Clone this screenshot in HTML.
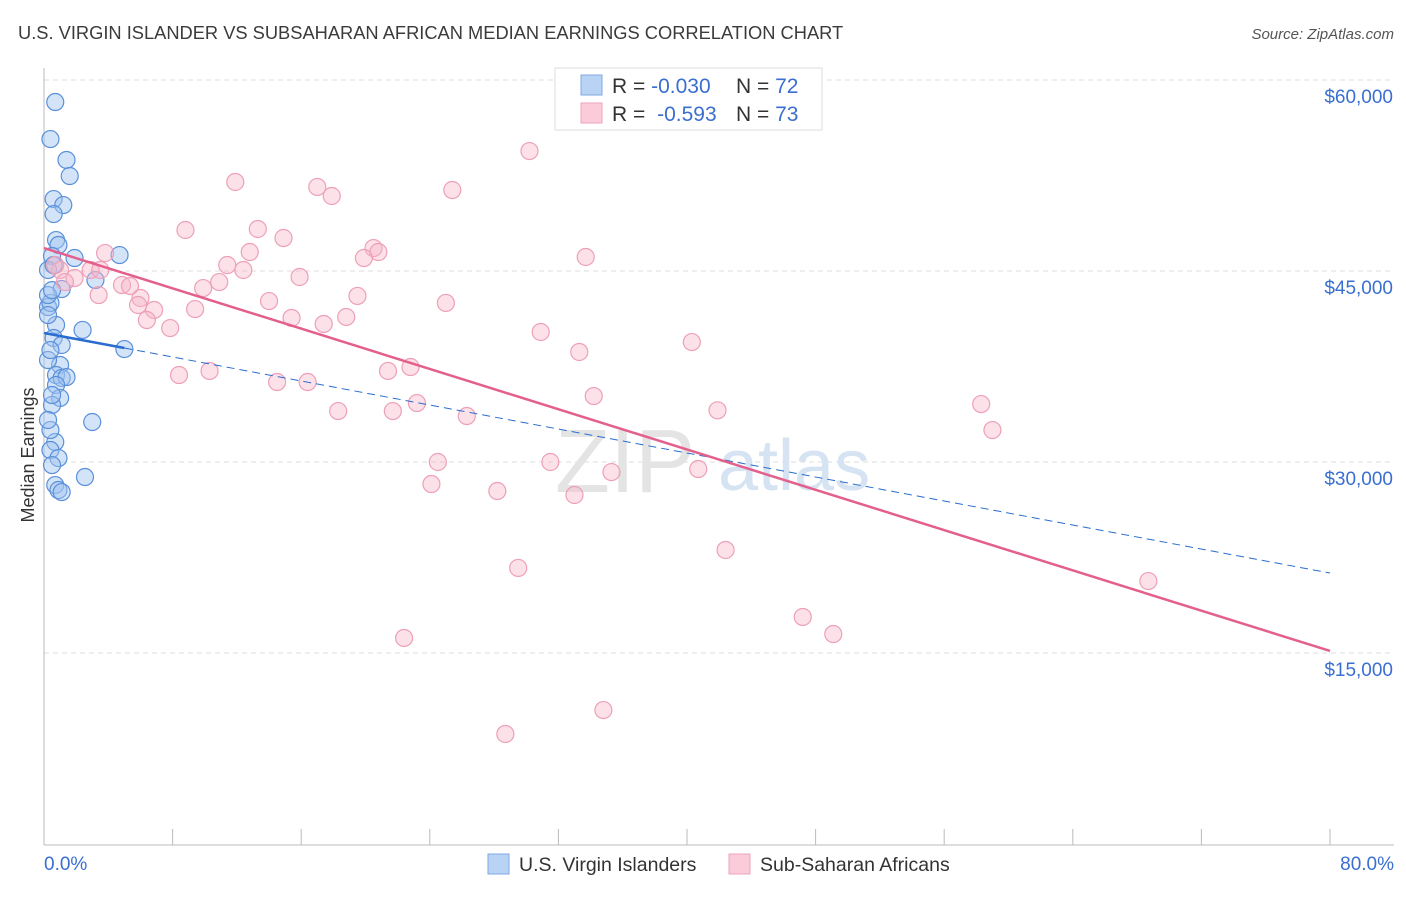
<!DOCTYPE html>
<html><head><meta charset="utf-8"><style>
body{margin:0;background:#fff;font-family:"Liberation Sans",sans-serif;}
svg text{font-family:"Liberation Sans",sans-serif;}
</style></head><body>
<svg id="chart" width="1406" height="892" viewBox="0 0 1406 892">
<text x="18" y="39" font-size="18.3" fill="#3b3b3b">U.S. VIRGIN ISLANDER VS SUBSAHARAN AFRICAN MEDIAN EARNINGS CORRELATION CHART</text>
<text x="1394" y="39" font-size="15" fill="#555" font-style="italic" text-anchor="end">Source: ZipAtlas.com</text>
<text x="34" y="455" font-size="18" fill="#333" text-anchor="middle" transform="rotate(-90 34 455)">Median Earnings</text>
<g id="grid"></g>
<g id="axes"></g>
<text x="555" y="492" font-size="90" fill="#e4e4e4" font-family="Liberation Serif">ZIP</text>
<text x="718" y="490" font-size="72" fill="#d5e3f3">atlas</text>
<g id="marks"></g>
<g>
<rect x="555" y="68" width="267" height="62" fill="#fff" stroke="#ddd"/>
<rect x="581" y="75" width="21" height="20" fill="#b9d3f5" stroke="#7fa8e0"/>
<rect x="581" y="103" width="21" height="20" fill="#fbcbd9" stroke="#eea6bc"/>
<text x="612" y="93" font-size="21" fill="#333">R = <tspan fill="#3a6fd0">-0.030</tspan></text>
<text x="736" y="93" font-size="21" fill="#333">N = <tspan fill="#3a6fd0">72</tspan></text>
<text x="612" y="121" font-size="21" fill="#333">R = <tspan fill="#3a6fd0" dx="6">-0.593</tspan></text>
<text x="736" y="121" font-size="21" fill="#333">N = <tspan fill="#3a6fd0">73</tspan></text>
</g>
<g>
<rect x="488" y="854" width="21" height="20" fill="#b9d3f5" stroke="#7fa8e0"/>
<text x="519" y="871" font-size="19.5" fill="#333">U.S. Virgin Islanders</text>
<rect x="729" y="854" width="21" height="20" fill="#fbcbd9" stroke="#eea6bc"/>
<text x="760" y="871" font-size="19.5" fill="#333">Sub-Saharan Africans</text>
</g>
<text x="44" y="870" font-size="19" fill="#3a6fd0">0.0%</text>
<text x="1394" y="870" font-size="19" fill="#3a6fd0" text-anchor="end">80.0%</text>
</svg>
<script>
const yTicks=[15000,30000,45000,60000];
const yTickLabels=["$15,000","$30,000","$45,000","$60,000"];
const blueX=[0.7,0.4,1.4,1.6,0.6,1.2,0.6,0.75,0.9,0.5,1.9,4.7,0.25,3.2,1.1,0.25,0.4,0.75,2.4,0.6,1.1,5.0,1.0,0.75,1.1,1.4,0.75,1.0,0.5,3.0,0.7,0.4,0.9,0.5,2.55,0.7,0.9,1.1,0.4,0.25,0.5,0.25,0.4,0.25,0.25,0.6,0.5];
const blueY=[58270,55360,53720,52460,50650,50180,49470,47430,47040,46180,46020,46250,45080,44290,43580,42170,42490,40760,40370,39740,39190,38870,37620,36830,36600,36670,36050,35030,34480,33140,31570,30940,30310,29760,28820,28190,27800,27640,32510,33300,35260,38010,38790,41540,43110,45470,43500];
const pinkX=[30.2,11.9,17.0,17.9,25.4,8.8,13.3,14.9,3.8,20.5,20.8,19.9,33.7,11.4,12.8,12.4,10.9,15.9,9.9,2.9,1.9,4.85,3.4,6.0,5.35,5.85,6.85,6.4,7.85,9.4,14.0,17.4,15.4,18.8,19.5,25.0,40.3,30.9,33.3,22.8,8.4,10.3,16.4,14.5,18.3,21.4,21.7,23.2,26.3,34.2,41.9,58.3,59.0,24.5,31.5,35.3,40.7,24.1,28.2,33.0,42.4,29.5,68.7,47.2,49.1,22.4,34.8,28.7,1.0,0.7,1.3,3.5];
const pinkY=[54420,51990,51600,50890,51360,48220,48300,47590,46410,46800,46490,46020,46100,45470,46490,45080,44130,44530,43660,45080,44450,43900,43110,42880,43820,42330,41940,41150,40520,42010,42640,40840,41310,41390,43040,42490,39420,40210,38640,37460,36830,37150,36280,36280,34000,37150,34000,34630,33610,35180,34060,34550,32510,30000,30000,29210,29450,28270,27720,27410,23090,21680,20650,17830,16490,16180,10520,8640,45080,45470,44130,45080];
const blueTrend=[40130,21280];
const pinkTrend=[46800,15160];
const NS="http://www.w3.org/2000/svg";
const X=v=>44+v/80*1286, Y=v=>653-(v-15000)/15000*191;
function mk(t,a,p){const e=document.createElementNS(NS,t);for(const k in a)e.setAttribute(k,a[k]);p.appendChild(e);return e;}
const grid=document.getElementById('grid'),axes=document.getElementById('axes'),marks=document.getElementById('marks');
yTicks.forEach((v,i)=>{
 const l=mk('line',{x1:44,x2:1394,y1:Y(v),y2:Y(v),stroke:'#ddd','stroke-dasharray':'5,4'},grid);
 
 
 const t=mk('text',{x:1393,y:Y(v)+23,'font-size':19,fill:'#3a6fd0','text-anchor':'end'},grid);
 t.textContent=yTickLabels[i];
 
 
});
let a=mk('line',{x1:44,x2:44,y1:68,y2:845,stroke:'#bbb'},axes);


a=mk('line',{x1:44,x2:1394,y1:845,y2:845,stroke:'#bbb'},axes);


for(let i=1;i<=10;i++){const px=44+i*128.6;const t=mk('line',{x1:px,x2:px,y1:829,y2:845,stroke:'#bbb'},axes);
 
 }
blueX.forEach((x,i)=>{const c=mk('circle',{cx:X(x),cy:Y(blueY[i]),r:8.5,fill:'rgba(160,196,240,0.45)',stroke:'#5a90da','stroke-width':1.2},marks);
 
 });
pinkX.forEach((x,i)=>{const c=mk('circle',{cx:X(x),cy:Y(pinkY[i]),r:8.5,fill:'rgba(248,180,200,0.4)',stroke:'#eda0b8','stroke-width':1.2},marks);
 
 });
const bAt=x=>blueTrend[0]+(blueTrend[1]-blueTrend[0])*x/80;
let l=mk('line',{x1:X(0),y1:Y(bAt(0)),x2:X(5),y2:Y(bAt(5)),stroke:'#2a6dd0','stroke-width':2.5},marks);


l=mk('line',{x1:X(5),y1:Y(bAt(5)),x2:X(80),y2:Y(bAt(80)),stroke:'#2a6dd0','stroke-width':1,'stroke-dasharray':'8,5'},marks);


l=mk('line',{x1:X(0),y1:Y(pinkTrend[0]),x2:X(80),y2:Y(pinkTrend[1]),stroke:'#e4608c','stroke-width':2.5},marks);


</script>
</body></html>
